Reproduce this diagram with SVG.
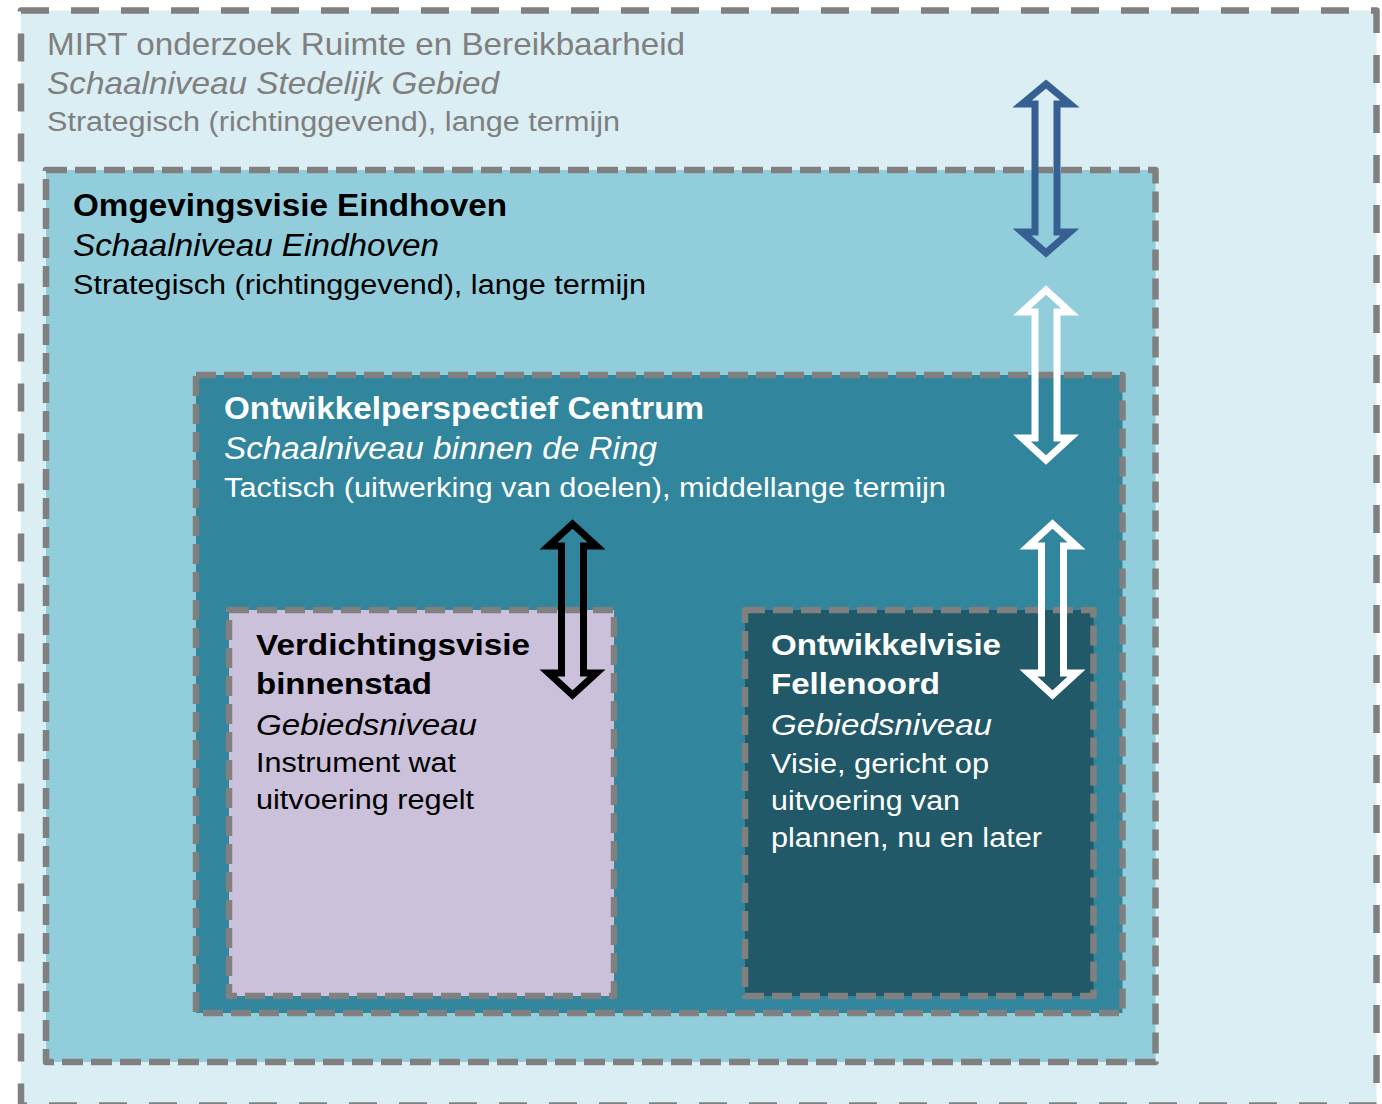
<svg xmlns="http://www.w3.org/2000/svg" width="1382" height="1104" viewBox="0 0 1382 1104">
<style>
.t{font-family:"Liberation Sans",Arial,sans-serif;}
.b{font-weight:bold;}
.i{font-style:italic;}
.box{stroke:#808080;stroke-width:6.5;stroke-linejoin:round;}
.arr{fill:none;stroke-width:7;stroke-linejoin:miter;stroke-miterlimit:10;}
</style>
<g id="mirt">
<rect class="box" x="21" y="10.5" width="1355.5" height="1095" fill="#DAEEF3" stroke-dasharray="28 22"/>
<text class="t" x="47" y="55" font-size="32" fill="#7F7F7F" textLength="638" lengthAdjust="spacingAndGlyphs">MIRT onderzoek Ruimte en Bereikbaarheid</text>
<text class="t i" x="47" y="94" font-size="32" fill="#7F7F7F" textLength="452" lengthAdjust="spacingAndGlyphs">Schaalniveau Stedelijk Gebied</text>
<text class="t" x="47" y="131" font-size="27" fill="#7F7F7F" textLength="573" lengthAdjust="spacingAndGlyphs">Strategisch (richtinggevend), lange termijn</text>
</g>
<g id="omgevingsvisie">
<rect class="box" x="46" y="170" width="1109.5" height="892" fill="#92CDDC" stroke-dasharray="21 8"/>
<text class="t b" x="73" y="216" font-size="31" fill="#000" textLength="434" lengthAdjust="spacingAndGlyphs">Omgevingsvisie Eindhoven</text>
<text class="t i" x="73" y="256" font-size="31" fill="#000" textLength="366" lengthAdjust="spacingAndGlyphs">Schaalniveau Eindhoven</text>
<text class="t" x="73" y="294" font-size="27" fill="#000" textLength="573" lengthAdjust="spacingAndGlyphs">Strategisch (richtinggevend), lange termijn</text>
</g>
<g id="ontwikkelperspectief">
<rect class="box" x="196" y="375" width="926.5" height="638" fill="#31859C" stroke-dasharray="20 8"/>
<text class="t b" x="224" y="419" font-size="31" fill="#FFF" textLength="480" lengthAdjust="spacingAndGlyphs">Ontwikkelperspectief Centrum</text>
<text class="t i" x="224" y="459" font-size="31" fill="#FFF" textLength="433" lengthAdjust="spacingAndGlyphs">Schaalniveau binnen de Ring</text>
<text class="t" x="224" y="497" font-size="27" fill="#FFF" textLength="722" lengthAdjust="spacingAndGlyphs">Tactisch (uitwerking van doelen), middellange termijn</text>
</g>
<g id="verdichtingsvisie">
<rect class="box" x="229" y="610" width="385" height="386" fill="#CCC1DA" stroke-dasharray="20 8"/>
<text class="t b" x="256" y="655" font-size="30" fill="#000" textLength="274" lengthAdjust="spacingAndGlyphs">Verdichtingsvisie</text>
<text class="t b" x="256" y="694" font-size="30" fill="#000" textLength="176" lengthAdjust="spacingAndGlyphs">binnenstad</text>
<text class="t i" x="256" y="735" font-size="30" fill="#000" textLength="221" lengthAdjust="spacingAndGlyphs">Gebiedsniveau</text>
<text class="t" x="256" y="772" font-size="27" fill="#000" textLength="200" lengthAdjust="spacingAndGlyphs">Instrument wat</text>
<text class="t" x="256" y="809" font-size="27" fill="#000" textLength="218" lengthAdjust="spacingAndGlyphs">uitvoering regelt</text>
</g>
<g id="fellenoord">
<rect class="box" x="745" y="610" width="348.5" height="386" fill="#215968" stroke-dasharray="20 8"/>
<text class="t b" x="771" y="655" font-size="30" fill="#FFF" textLength="230" lengthAdjust="spacingAndGlyphs">Ontwikkelvisie</text>
<text class="t b" x="771" y="694" font-size="30" fill="#FFF" textLength="169" lengthAdjust="spacingAndGlyphs">Fellenoord</text>
<text class="t i" x="771" y="735" font-size="30" fill="#FFF" textLength="221" lengthAdjust="spacingAndGlyphs">Gebiedsniveau</text>
<text class="t" x="771" y="773" font-size="27" fill="#FFF" textLength="218" lengthAdjust="spacingAndGlyphs">Visie, gericht op</text>
<text class="t" x="771" y="810" font-size="27" fill="#FFF" textLength="189" lengthAdjust="spacingAndGlyphs">uitvoering van</text>
<text class="t" x="771" y="847" font-size="27" fill="#FFF" textLength="271" lengthAdjust="spacingAndGlyphs">plannen, nu en later</text>
</g>
<g id="connectors">
<path class="arr" stroke="#376092" d="M1046,84 L1070,104 L1057,104 L1057,232 L1070,232 L1046,253 L1022,232 L1035,232 L1035,104 L1022,104 Z"/>
<path class="arr" stroke="#FFFFFF" d="M1046,290 L1070,312 L1057,312 L1057,438 L1070,438 L1046,460 L1022,438 L1035,438 L1035,312 L1022,312 Z"/>
<path class="arr" stroke="#000000" d="M572.5,524 L596.5,546 L583.5,546 L583.5,673 L596.5,673 L572.5,695 L548.5,673 L561.5,673 L561.5,546 L548.5,546 Z"/>
<path class="arr" stroke="#FFFFFF" d="M1052.5,524 L1076.5,546 L1063.5,546 L1063.5,673 L1076.5,673 L1052.5,695 L1028.5,673 L1041.5,673 L1041.5,546 L1028.5,546 Z"/>
</g>
</svg>
